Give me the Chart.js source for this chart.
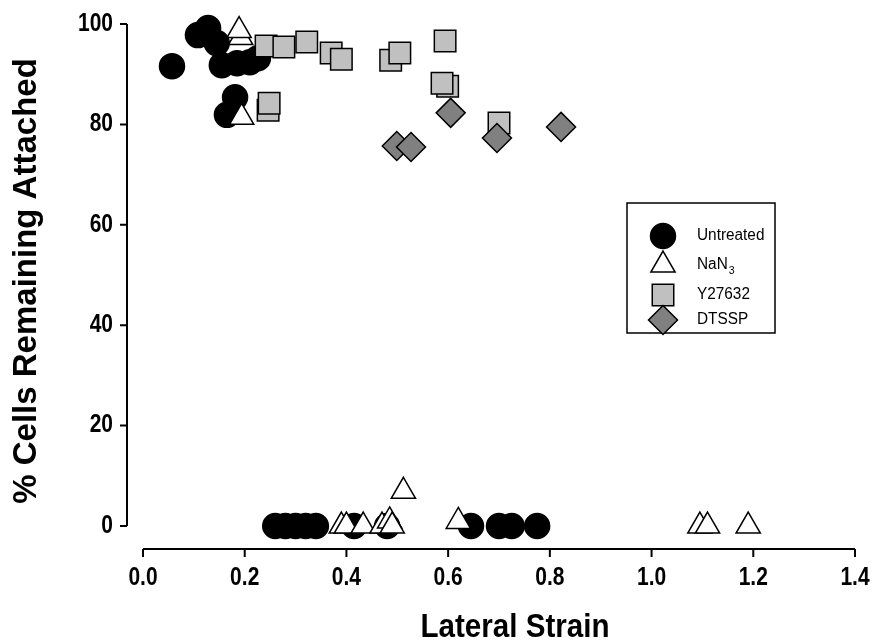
<!DOCTYPE html>
<html>
<head>
<meta charset="utf-8">
<script src="https://cdn.jsdelivr.net/npm/chart.js@4.4.1/dist/chart.umd.min.js"></script>
<style>
  html, body { margin: 0; padding: 0; background: #fff; }
  #box { width: 879px; height: 643px; }
</style>
</head>
<body>
<div id="box"><canvas id="grafico" width="879" height="643"></canvas></div>
<script>
// dados
const untreatedX = [0.057, 0.108, 0.128, 0.145, 0.155, 0.185, 0.21, 0.226, 0.181, 0.165,
                    0.26, 0.28, 0.30, 0.32, 0.34, 0.415, 0.48, 0.645, 0.70, 0.725, 0.775];
const untreatedY = [91.6, 97.8, 99.2, 96.2, 91.8, 92.2, 92.4, 93.2, 85.4, 81.9,
                    0, 0, 0, 0, 0, 0, 0, 0, 0, 0, 0];

const nan3X = [0.192, 0.189, 0.194, 0.39, 0.40, 0.433, 0.47, 0.485, 0.49, 0.512, 0.62, 1.095, 1.11, 1.19];
const nan3Y = [97.3, 98.7, 81.4, 0, 0, 0, 0, 1, 0, 6.9, 0.9, 0, 0, 0];

const y27632X = [0.242, 0.277, 0.322, 0.37, 0.39, 0.487, 0.505, 0.594, 0.599, 0.588, 0.70, 0.246, 0.248];
const y27632Y = [95.6, 95.4, 96.4, 94.2, 93.0, 92.8, 94.2, 96.6, 87.6, 88.2, 80.3, 82.8, 84.2];

const dtsspX = [0.499, 0.527, 0.605, 0.696, 0.822];
const dtsspY = [75.7, 75.5, 82.3, 77.3, 79.5];

const seriesNames = ['Untreated', 'NaN', 'Y27632', 'DTSSP'];
const xTicks = [0, 0.2, 0.4, 0.6, 0.8, 1.0, 1.2, 1.4];
const yTicks = [0, 20, 40, 60, 80, 100];
const xTitulo = 'Lateral Strain';
const yTitulo = '% Cells Remaining Attached';

const FAMILIA = '"Liberation Sans", Arial, sans-serif';

function pontos(xs, ys) {
    return xs.map((x, i) => ({ x: x, y: ys[i] }));
}

const estilos = [
    { style: 'circle', r: 12.5, fill: '#000000' },
    { style: 'triangle', r: 14, fill: '#ffffff' },
    { style: 'rect', r: 15.2, fill: '#c0c0c0' },
    { style: 'rectRot', r: 14.5, fill: '#808080' }
];

function marcador(ctx, tipo, x, y, r) {
    ctx.beginPath();
    if (tipo === 'circle') {
        ctx.arc(x, y, r, 0, Math.PI * 2);
    } else if (tipo === 'triangle') {
        ctx.moveTo(x, y - r);
        ctx.lineTo(x + r * Math.sqrt(3) / 2, y + r / 2);
        ctx.lineTo(x - r * Math.sqrt(3) / 2, y + r / 2);
    } else if (tipo === 'rect') {
        const s = r * Math.SQRT1_2;
        ctx.rect(x - s, y - s, 2 * s, 2 * s);
    } else {
        ctx.moveTo(x, y - r);
        ctx.lineTo(x + r, y);
        ctx.lineTo(x, y + r);
        ctx.lineTo(x - r, y);
    }
    ctx.closePath();
    ctx.fill();
    ctx.stroke();
}

// texto com largura comprimida (fonte estreita do original)
function texto(ctx, str, x, y, fonte, align, aperto, angulo) {
    ctx.save();
    ctx.translate(x, y);
    if (angulo) ctx.rotate(angulo);
    ctx.scale(aperto, 1);
    ctx.font = fonte;
    ctx.textAlign = align;
    ctx.textBaseline = 'middle';
    ctx.fillStyle = '#000';
    ctx.fillText(str, 0, 0);
    ctx.restore();
}

// eixos deslocados no estilo SigmaPlot
const eixosPlugin = {
    id: 'eixos',
    beforeDatasetsDraw(chart) {
        const ctx = chart.ctx;
        const xs = chart.scales.x, ys = chart.scales.y;
        const area = chart.chartArea;
        ctx.save();
        ctx.strokeStyle = '#000';
        ctx.lineWidth = 2;
        const ax = area.left - 16;
        ctx.beginPath();
        ctx.moveTo(ax, ys.getPixelForValue(0));
        ctx.lineTo(ax, ys.getPixelForValue(100));
        yTicks.forEach(v => {
            const p = ys.getPixelForValue(v);
            ctx.moveTo(ax, p);
            ctx.lineTo(ax - 7, p);
        });
        const ay = area.bottom + 23;
        ctx.moveTo(xs.getPixelForValue(0), ay);
        ctx.lineTo(xs.getPixelForValue(1.4), ay);
        xTicks.forEach(v => {
            const p = xs.getPixelForValue(v);
            ctx.moveTo(p, ay);
            ctx.lineTo(p, ay + 8);
        });
        ctx.stroke();
        ctx.restore();

        const fTick = 'bold 25px ' + FAMILIA;
        yTicks.forEach(v => texto(ctx, String(v), ax - 14, ys.getPixelForValue(v), fTick, 'right', 0.84));
        xTicks.forEach(v => texto(ctx, v.toFixed(1), xs.getPixelForValue(v), area.bottom + 52, fTick, 'center', 0.84));
        texto(ctx, xTitulo, (area.left + area.right) / 2 + 16, area.bottom + 102, 'bold 34px ' + FAMILIA, 'center', 0.87);
        texto(ctx, yTitulo, 27, (area.top + area.bottom) / 2 + 6, 'bold 33px ' + FAMILIA, 'center', 1, -Math.PI / 2);
    }
};

const legendaPlugin = {
    id: 'legenda',
    afterDraw(chart) {
        const ctx = chart.ctx;
        ctx.save();
        ctx.strokeStyle = '#000';
        ctx.lineWidth = 1.5;
        ctx.strokeRect(627, 203, 148, 130);
        const linhas = [236, 265, 295, 320];
        linhas.forEach((ly, i) => {
            ctx.fillStyle = estilos[i].fill;
            ctx.strokeStyle = '#000';
            ctx.lineWidth = 1.5;
            marcador(ctx, estilos[i].style, 663, ly, estilos[i].r);
            texto(ctx, seriesNames[i], 697, ly, '16px ' + FAMILIA, 'left', 0.96);
            if (i === 1) {
                ctx.font = '16px ' + FAMILIA;
                const w = ctx.measureText(seriesNames[i]).width * 0.96;
                texto(ctx, '3', 697 + w + 1, ly + 6, '11px ' + FAMILIA, 'left', 0.96);
            }
        });
        ctx.restore();
    }
};

const series = [
    pontos(untreatedX, untreatedY),
    pontos(nan3X, nan3Y),
    pontos(y27632X, y27632Y),
    pontos(dtsspX, dtsspY)
];

new Chart(document.getElementById('grafico'), {
    type: 'scatter',
    data: {
        datasets: series.map((d, i) => ({
            label: seriesNames[i],
            data: d,
            pointStyle: estilos[i].style,
            pointRadius: estilos[i].r,
            backgroundColor: estilos[i].fill,
            borderColor: '#000000',
            borderWidth: 1.5,
            order: 4 - i,
            clip: false
        }))
    },
    options: {
        responsive: false,
        animation: false,
        events: [],
        layout: { padding: { top: 24, right: 24, left: 0, bottom: 0 } },
        plugins: {
            legend: { display: false },
            tooltip: { enabled: false }
        },
        scales: {
            x: {
                type: 'linear',
                min: 0,
                max: 1.4,
                afterFit: s => { s.height = 117; },
                afterBuildTicks: s => { s.ticks = xTicks.map(v => ({ value: v })); },
                grid: { display: false },
                border: { display: false },
                ticks: { display: false }
            },
            y: {
                type: 'linear',
                min: 0,
                max: 100,
                afterFit: s => { s.width = 143; },
                afterBuildTicks: s => { s.ticks = yTicks.map(v => ({ value: v })); },
                grid: { display: false },
                border: { display: false },
                ticks: { display: false }
            }
        }
    },
    plugins: [eixosPlugin, legendaPlugin]
});
</script>
</body>
</html>
